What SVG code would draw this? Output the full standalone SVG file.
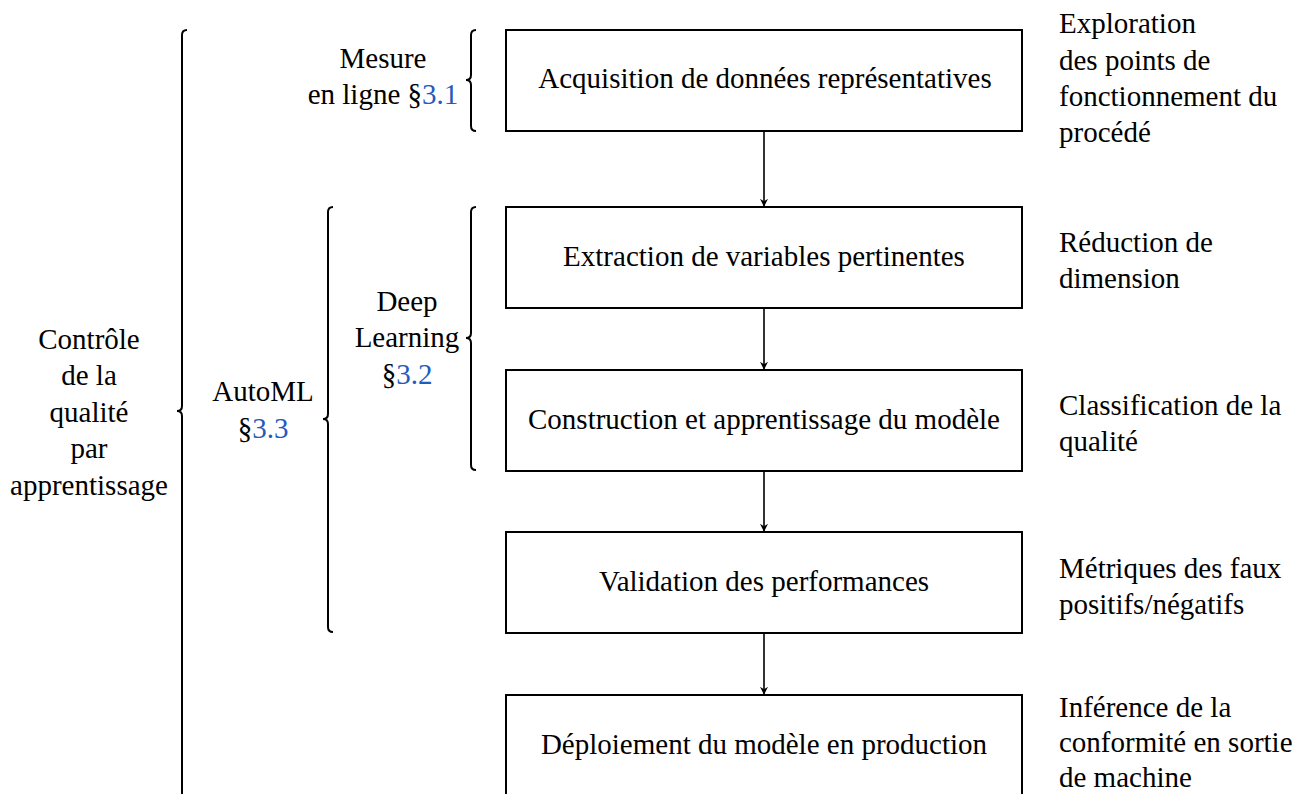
<svg xmlns="http://www.w3.org/2000/svg" width="1312" height="794" viewBox="0 0 1312 794">
<defs>
<style>
text{font-family:"Liberation Serif","Times New Roman",serif;font-size:29px;fill:#000}
.c{text-anchor:middle}
.l{text-anchor:start}
.b{fill:#1f5cbf}
.box{fill:#fff;stroke:#000;stroke-width:2}
.br{fill:none;stroke:#000;stroke-width:2}
.ar{stroke:#000;stroke-width:1.6;fill:none}
</style>
<marker id="ah" viewBox="0 0 10 10" refX="9" refY="5" markerWidth="8" markerHeight="8" markerUnits="userSpaceOnUse" orient="auto">
<path d="M0,0 L10,5 L0,10 L3,5 Z" fill="#000"/>
</marker>
</defs>
<rect width="1312" height="794" fill="#fff"/>

<g id="connectors">
<line class="ar" x1="764" y1="131" x2="764" y2="206" marker-end="url(#ah)"/>
<line class="ar" x1="764" y1="308" x2="764" y2="369" marker-end="url(#ah)"/>
<line class="ar" x1="764" y1="471" x2="764" y2="531" marker-end="url(#ah)"/>
<line class="ar" x1="764" y1="633" x2="764" y2="694" marker-end="url(#ah)"/>
</g>

<g id="braces">
<path class="br" d="M187,30 Q182,30 182,35 L182,406 Q182,411 177,411 Q182,411 182,416 L182,794"/>
<path class="br" d="M333,207 Q328,207 328,212 L328,414 Q328,419 323,419 Q328,419 328,424 L328,627 Q328,632 333,632"/>
<path class="br" d="M476,207 Q471,207 471,212 L471,333 Q471,338 466,338 Q471,338 471,343 L471,465 Q471,470 476,470"/>
<path class="br" d="M476,30 Q471,30 471,35 L471,75 Q471,80 466,80 Q471,80 471,85 L471,126 Q471,131 476,131"/>
</g>

<g id="n-controle">
<text class="c" x="89" y="349">Contrôle</text>
<text class="c" x="89" y="385">de la</text>
<text class="c" x="89" y="422">qualité</text>
<text class="c" x="89" y="458">par</text>
<text class="c" x="89" y="495">apprentissage</text>
</g>
<g id="n-automl">
<text class="c" x="263" y="401">AutoML</text>
<text class="c" x="263" y="438">§<tspan class="b">3.3</tspan></text>
</g>
<g id="n-deep">
<text class="c" x="407" y="311">Deep</text>
<text class="c" x="407" y="347">Learning</text>
<text class="c" x="407" y="384">§<tspan class="b">3.2</tspan></text>
</g>
<g id="n-mesure">
<text class="c" x="383" y="68">Mesure</text>
<text class="c" x="383" y="104">en ligne §<tspan class="b">3.1</tspan></text>
</g>

<g id="box1">
<rect class="box" x="506" y="30" width="516" height="101"/>
<text class="c" x="765" y="88">Acquisition de données représentatives</text>
</g>
<g id="box2">
<rect class="box" x="506" y="207" width="516" height="101"/>
<text class="c" x="764" y="266">Extraction de variables pertinentes</text>
</g>
<g id="box3">
<rect class="box" x="506" y="370" width="516" height="101"/>
<text class="c" x="764" y="429">Construction et apprentissage du modèle</text>
</g>
<g id="box4">
<rect class="box" x="506" y="532" width="516" height="101"/>
<text class="c" x="764" y="591">Validation des performances</text>
</g>
<g id="box5">
<rect class="box" x="506" y="695" width="516" height="101"/>
<text class="c" x="764" y="754">Déploiement du modèle en production</text>
</g>

<g id="n-right1">
<text class="l" x="1059" y="33">Exploration</text>
<text class="l" x="1059" y="70">des points de</text>
<text class="l" x="1059" y="106">fonctionnement du</text>
<text class="l" x="1059" y="142">procédé</text>
</g>
<g id="n-right2">
<text class="l" x="1059" y="252">Réduction de</text>
<text class="l" x="1059" y="288">dimension</text>
</g>
<g id="n-right3">
<text class="l" x="1059" y="415">Classification de la</text>
<text class="l" x="1059" y="451">qualité</text>
</g>
<g id="n-right4">
<text class="l" x="1059" y="578">Métriques des faux</text>
<text class="l" x="1059" y="614">positifs/négatifs</text>
</g>
<g id="n-right5">
<text class="l" x="1059" y="717">Inférence de la</text>
<text class="l" x="1059" y="752">conformité en sortie</text>
<text class="l" x="1059" y="787">de machine</text>
</g>
</svg>
